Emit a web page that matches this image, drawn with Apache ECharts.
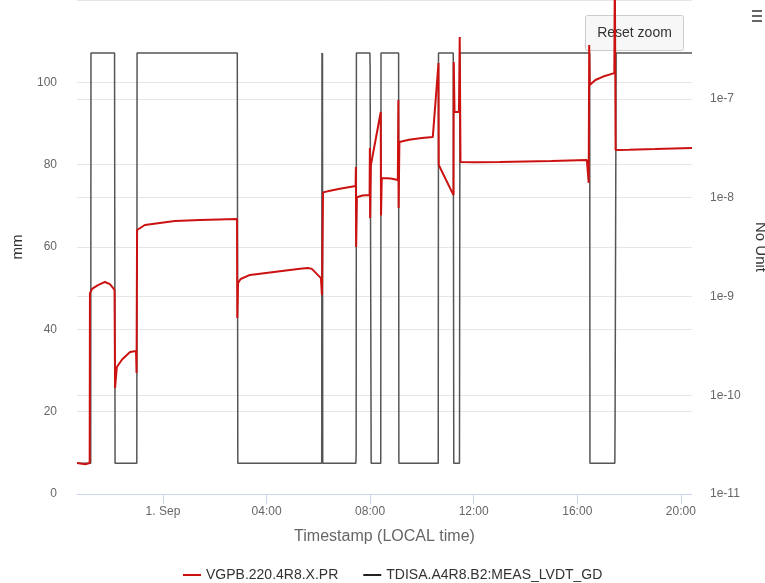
<!DOCTYPE html>
<html>
<head>
<meta charset="utf-8">
<script src="https://cdn.jsdelivr.net/npm/echarts@6/dist/echarts.min.js"></script>
<style>
html,body{margin:0;padding:0;background:#fff;}
#chart{width:765px;height:583px;}
</style>
</head>
<body>
<div id="chart"></div>
<script>
// Hours relative to 1 Sep 00:00 (local time)
const xMin = -3.32;
const xMax = 20.43;
const xTickHours = [0, 4, 8, 12, 16, 20];

const seriesNames = ['VGPB.220.4R8.X.PR', 'TDISA.A4R8.B2:MEAS_LVDT_GD'];

// VGPB.220.4R8.X.PR (pressure, right log axis)
const redTimes = [
  -3.32, -3.0, -2.83, -2.82, -2.74, -2.51, -2.24, -2.05, -1.93, -1.87,
  -1.85, -1.81, -1.78, -1.58, -1.27, -1.04, -1.02, -1.00, -0.70, 0.46,
  1.43, 2.86, 2.87, 2.90, 3.00, 3.36, 4.52, 5.29, 5.60, 5.75,
  6.10, 6.14, 6.18, 6.50, 6.83, 7.44, 7.45, 7.46, 7.49, 7.70,
  7.98, 7.99, 8.00, 8.03, 8.07, 8.41, 8.42, 8.45, 8.80, 9.07,
  9.09, 9.10, 9.13, 9.50, 10.00, 10.42, 10.64, 10.65, 11.22, 11.23,
  11.26, 11.43, 11.46, 11.49, 12.00, 13.00, 14.00, 15.00, 16.37, 16.41,
  16.44, 16.46, 16.48, 16.70, 17.00, 17.43, 17.45, 17.48, 18.00, 19.00,
  20.43
];
const redValues = [
  2.06e-11, 2.0e-11, 2.06e-11, 1.08e-9, 1.19e-9, 1.30e-9, 1.40e-9, 1.33e-9, 1.22e-9, 1.16e-9,
  1.18e-10, 1.6e-10, 1.93e-10, 2.3e-10, 2.74e-10, 2.80e-10, 1.68e-10, 4.70e-9, 5.28e-9, 5.79e-9,
  5.95e-9, 6.07e-9, 6.04e-10, 1.37e-9, 1.5e-9, 1.65e-9, 1.8e-9, 1.9e-9, 1.94e-9, 1.9e-9,
  1.53e-9, 1.03e-9, 1.13e-8, 1.18e-8, 1.23e-8, 1.31e-8, 2.04e-8, 3.16e-9, 1.01e-8, 1.05e-8,
  1.06e-8, 3.18e-8, 6.22e-9, 2.14e-8, 2.14e-8, 7.35e-8, 6.6e-9, 1.58e-8, 1.56e-8, 1.51e-8,
  9.73e-8, 7.85e-9, 3.65e-8, 3.85e-8, 4.0e-8, 4.10e-8, 2.30e-7, 2.14e-8, 1.06e-8, 2.36e-7,
  7.35e-8, 7.35e-8, 4.23e-7, 2.29e-8, 2.28e-8, 2.29e-8, 2.32e-8, 2.35e-8, 2.40e-8, 2.3e-8,
  1.41e-8, 3.5e-7, 1.38e-7, 1.55e-7, 1.68e-7, 1.82e-7, 2e-6, 3.03e-8, 3.05e-8, 3.1e-8,
  3.18e-8
];

// TDISA.A4R8.B2:MEAS_LVDT_GD (mm, left axis)
const blackTimes = [
  -3.32, -2.79, -2.78, -1.87, -1.85, -1.01, -1.00, 2.87, 2.89, 6.13,
  6.14, 6.15, 6.16, 6.17, 6.18, 7.45, 7.46, 7.47, 7.99, 8.00,
  8.03, 8.04, 8.41, 8.42, 9.10, 9.11, 10.63, 10.64, 11.21, 11.23,
  11.45, 11.47, 16.48, 16.49, 17.45, 17.46, 17.49, 17.50, 20.43
];
const blackValues = [
  7.5, 7.5, 107.1, 107.1, 7.5, 7.5, 107.1, 107.1, 7.5, 7.5,
  107.1, 7.5, 107.1, 7.5, 7.5, 7.5, 10, 107.1, 107.1, 103.5,
  103.5, 7.5, 7.5, 107.1, 107.1, 7.5, 7.5, 107.1, 107.1, 7.5,
  7.5, 107.1, 107.1, 7.5, 7.5, 18.5, 18.5, 107.1, 107.1
];

const leftMin = 0, leftMax = 120, leftInterval = 20;
const rightMin = 1e-11, rightMax = 1e-6;

const redData = redTimes.map((t, i) => [t, redValues[i]]);
const blackData = blackTimes.map((t, i) => [t, blackValues[i]]);

const FONT = '"Liberation Sans", Arial, sans-serif';
const chart = echarts.init(document.getElementById('chart'), null, {renderer: 'canvas'});

function pad(n){ return (n < 10 ? '0' : '') + n; }

chart.setOption({
  animation: false,
  backgroundColor: '#fff',
  textStyle: {fontFamily: FONT},
  grid: {left: 77, right: 73, top: 0, bottom: 89, containLabel: false, outerBoundsMode: 'none'},
  legend: {
    top: 563,
    left: 178,
    itemGap: 25,
    itemWidth: 18,
    itemHeight: 2,
    icon: 'rect',
    textStyle: {fontSize: 14, color: '#333', fontFamily: FONT},
    data: seriesNames
  },
  xAxis: {
    type: 'value',
    min: xMin,
    max: xMax,
    name: 'Timestamp (LOCAL time)',
    nameLocation: 'middle',
    nameGap: 35,
    nameTextStyle: {fontSize: 16, color: '#666', fontFamily: FONT},
    axisLine: {show: true, onZero: false, lineStyle: {color: '#ccd6eb', width: 1}},
    axisTick: {show: true, length: 10, lineStyle: {color: '#ccd6eb'}, customValues: xTickHours},
    splitLine: {show: false},
    axisLabel: {
      customValues: xTickHours,
      color: '#666', fontSize: 12, margin: 12, fontFamily: FONT,
      formatter: function (v) {
        const h = Math.round(v);
        return h === 0 ? '1. Sep' : pad(h) + ':00';
      }
    }
  },
  yAxis: [
    {
      type: 'value',
      min: leftMin, max: leftMax, interval: leftInterval,
      name: 'mm',
      nameLocation: 'middle',
      nameGap: 52,
      nameTextStyle: {fontSize: 15, color: '#333', fontFamily: FONT},
      axisLine: {show: false},
      axisTick: {show: false},
      axisLabel: {
        color: '#666', fontSize: 12, margin: 20, fontFamily: FONT,
        formatter: function (v) { return v >= leftMax ? '' : String(v); }
      },
      splitLine: {show: true, lineStyle: {color: '#e6e6e6', width: 1}}
    },
    {
      type: 'log',
      logBase: 10,
      min: rightMin, max: rightMax,
      position: 'right',
      name: 'No Unit',
      nameLocation: 'middle',
      nameRotate: -90,
      nameGap: 61,
      nameTextStyle: {fontSize: 15, color: '#333', fontFamily: FONT},
      axisLine: {show: false},
      axisTick: {show: false},
      axisLabel: {
        color: '#666', fontSize: 12, margin: 18, fontFamily: FONT,
        formatter: function (v) {
          const e = Math.round(Math.log10(v));
          return e >= -6 ? '' : '1e' + e;
        }
      },
      splitLine: {show: true, lineStyle: {color: '#e6e6e6', width: 1}}
    }
  ],
  series: [
    {
      name: seriesNames[0],
      type: 'line',
      yAxisIndex: 1,
      data: redData,
      showSymbol: false,
      symbol: 'none',
      z: 3,
      clip: true,
      color: '#cc1111',
      lineStyle: {color: '#cc1111', width: 2}
    },
    {
      name: seriesNames[1],
      type: 'line',
      yAxisIndex: 0,
      data: blackData,
      showSymbol: false,
      symbol: 'none',
      z: 2,
      clip: true,
      color: '#222',
      lineStyle: {color: '#555', width: 1.5}
    }
  ],
  graphic: [
    {
      type: 'group', left: 585, top: 15, z: 100,
      children: [
        {type: 'rect', shape: {x: 0, y: 0, width: 98, height: 35, r: 2},
         style: {fill: '#f7f7f7', stroke: '#cccccc', lineWidth: 1}},
        {type: 'text', x: 49, y: 18,
         style: {text: 'Reset zoom', fill: '#333', font: '14px ' + FONT, align: 'center', verticalAlign: 'middle'}}
      ]
    },
    {
      type: 'group', left: 752, top: 10, z: 100,
      children: [
        {type: 'rect', shape: {x: 0, y: 0, width: 10, height: 2}, style: {fill: '#666'}},
        {type: 'rect', shape: {x: 0, y: 5, width: 10, height: 2}, style: {fill: '#666'}},
        {type: 'rect', shape: {x: 0, y: 10, width: 10, height: 2}, style: {fill: '#666'}}
      ]
    }
  ]
});
</script>
</body>
</html>
